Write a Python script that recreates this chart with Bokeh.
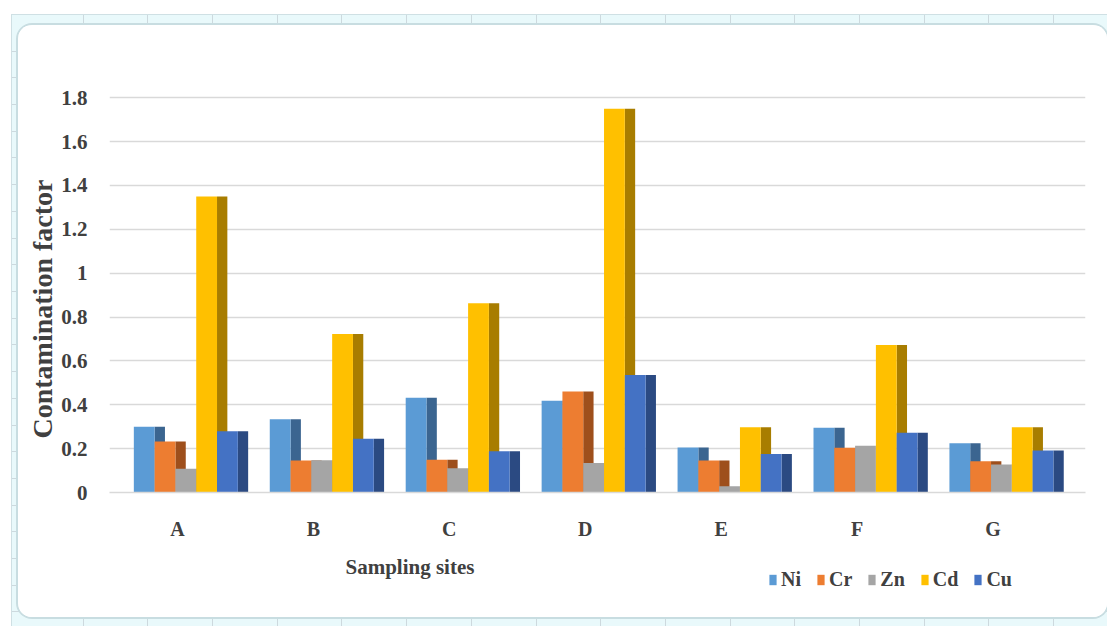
from bokeh.plotting import figure
from bokeh.models import (Range1d, NumeralTickFormatter, Legend, LegendItem, Title,
                          ColumnDataSource, Label)
from bokeh.layouts import column
from bokeh.embed import file_html
from bokeh.resources import INLINE

# ---- data ----
sites = ["A", "B", "C", "D", "E", "F", "G"]
metals = ["Ni", "Cr", "Zn", "Cd", "Cu"]
ni = [0.300, 0.334, 0.432, 0.418, 0.205, 0.295, 0.225]
cr = [0.232, 0.146, 0.149, 0.460, 0.146, 0.204, 0.143]
zn = [0.108, 0.147, 0.111, 0.134, 0.029, 0.213, 0.128]
cd = [1.350, 0.723, 0.863, 1.750, 0.298, 0.673, 0.298]
cu = [0.279, 0.245, 0.188, 0.536, 0.175, 0.272, 0.191]
yticks = [0, 0.2, 0.4, 0.6, 0.8, 1.0, 1.2, 1.4, 1.6, 1.8]

series = [ni, cr, zn, cd, cu]
front_colors = ["#5b9bd5", "#ed7d31", "#a5a5a5", "#ffc000", "#4472c4"]
side_colors = ["#3b6590", "#9e4f1c", "#6e6e6e", "#a87d00", "#2b4a82"]

TXT = "#404040"
FONT = "Liberation Serif"

bar_w = 0.153
side_w = 0.076
group_left = -0.321

# ---- main chart ----
p = figure(width=1089, height=520, output_backend="svg", toolbar_location=None,
           x_range=Range1d(-0.5, 6.68), y_range=Range1d(0, 1.81),
           min_border_left=91, min_border_right=22, min_border_top=70,
           min_border_bottom=53)
p.outline_line_color = None
p.background_fill_color = "white"
p.border_fill_color = "white"
p.xgrid.grid_line_color = None
p.ygrid.grid_line_color = "#d9d9d9"
p.ygrid.grid_line_width = 1.5

p.yaxis.ticker = yticks
p.yaxis.formatter = NumeralTickFormatter(format="0.[0]")
p.xaxis.ticker = list(range(len(sites)))
p.xaxis.major_label_overrides = {i: s for i, s in enumerate(sites)}

for ax in (p.xaxis, p.yaxis):
    ax.major_tick_line_color = None
    ax.minor_tick_line_color = None
    ax.major_label_text_font = FONT
    ax.major_label_text_font_style = "bold"
    ax.major_label_text_color = TXT
p.yaxis.axis_line_color = None
p.xaxis.axis_line_color = "#d9d9d9"
p.xaxis.axis_line_width = 1.5
p.yaxis.major_label_text_font_size = "21px"
p.xaxis.major_label_text_font_size = "20px"
p.yaxis.major_label_standoff = 16
p.xaxis.major_label_standoff = 19

ytitle = Title(text="Contamination factor", align="left", offset=54,
               standoff=2, text_font=FONT, text_font_style="bold",
               text_font_size="28px", text_color=TXT)
p.add_layout(ytitle, "left")

for k, (vals, fc, sc) in enumerate(zip(series, front_colors, side_colors)):
    src = ColumnDataSource(dict(
        xf=[i + group_left + bar_w * (k + 0.5) for i in range(len(sites))],
        xs=[i + group_left + bar_w * (k + 1) + side_w / 2 for i in range(len(sites))],
        top=vals))
    p.vbar(x="xs", width=side_w, top="top", bottom=0, source=src,
           fill_color=sc, line_color=None)
    p.vbar(x="xf", width=bar_w, top="top", bottom=0, source=src,
           fill_color=fc, line_color=None)

# ---- strip below: axis title + legend ----
q = figure(width=1089, height=72, output_backend="svg", toolbar_location=None,
           x_range=Range1d(0, 976), y_range=Range1d(0, 72),
           x_axis_type=None, y_axis_type=None,
           min_border_left=91, min_border_right=22, min_border_top=0,
           min_border_bottom=0)
q.outline_line_color = None
q.background_fill_color = "white"
q.border_fill_color = "white"
q.xgrid.visible = False
q.ygrid.visible = False

q.add_layout(Label(x=236, y=51, text="Sampling sites", text_baseline="middle",
                   text_font=FONT, text_font_style="bold", text_font_size="21px",
                   text_color=TXT))

items = []
for name, fc in zip(metals, front_colors):
    # zero-height proxy bar that only carries the legend swatch colour
    r = q.vbar(x=[0], top=[0], bottom=[0], width=0, fill_color=fc, line_color=None)
    items.append(LegendItem(label=name, renderers=[r]))

legend = Legend(items=items, orientation="horizontal", location=(659, 26),
                glyph_width=9, glyph_height=13, label_standoff=4, spacing=15,
                label_text_font=FONT, label_text_font_style="bold",
                label_text_font_size="20px", label_text_color=TXT,
                border_line_color=None, background_fill_alpha=0,
                margin=0, padding=0)
q.add_layout(legend, "center")

card = column(p, q, width=1089, height=592, margin=(10, 0, 0, 6),
              styles={"background-color": "white", "border-radius": "14px",
                      "overflow": "hidden", "box-shadow": "0 0 0 2px #c8dde1"})

outer = column(card, width=1095, height=611, margin=(15, 0, 0, 12),
               styles={"background-color": "#e9f9fb",
                       "background-image":
                           "repeating-linear-gradient(90deg, transparent 0px, transparent 63.7px, #cdd9de 63.7px, #cdd9de 64.7px),"
                           "repeating-linear-gradient(180deg, transparent 0px, transparent 25.7px, #cdd9de 25.7px, #cdd9de 26.7px)",
                       "background-position": "7px 10px",
                       "box-shadow": "0 0 0 1px #cfe0e4"})

open("out.html", "w").write(file_html(outer, INLINE))
